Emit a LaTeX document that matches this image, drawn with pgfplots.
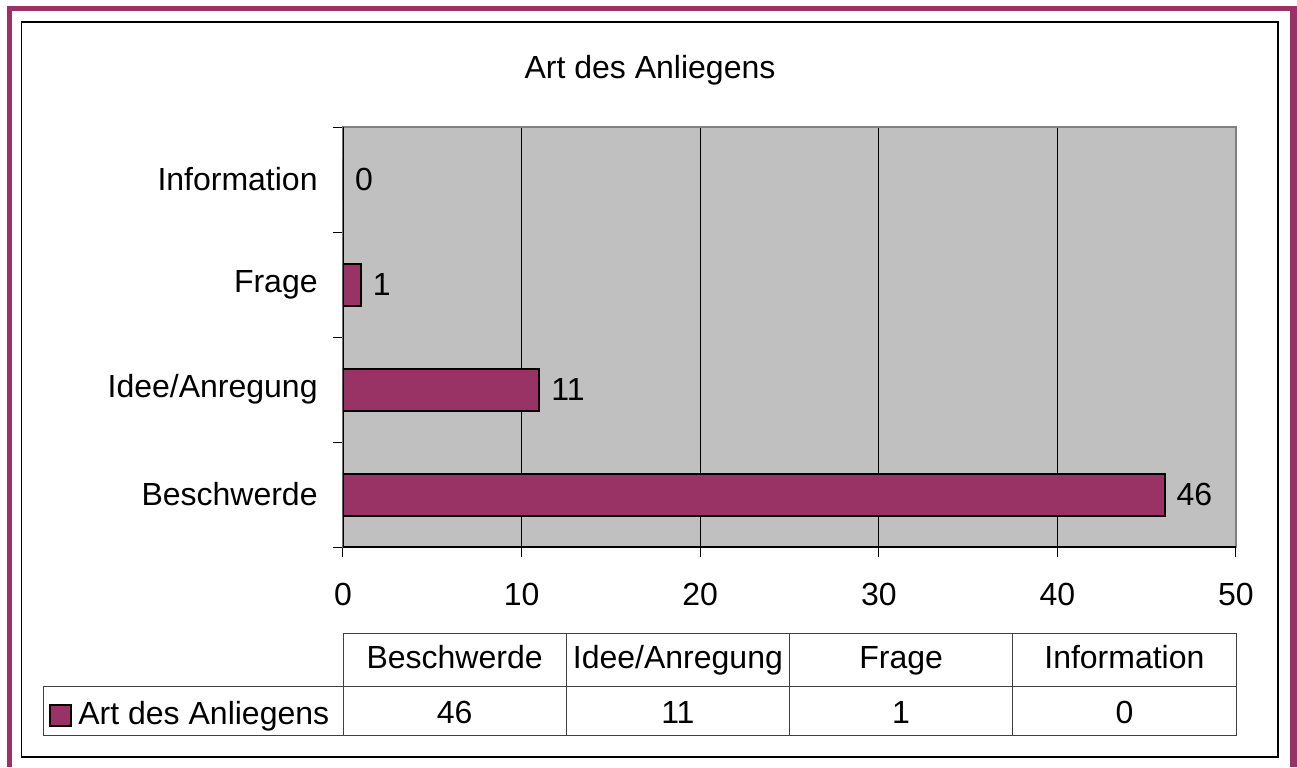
\documentclass[border=0pt]{standalone}
\usepackage{pgfplots}
\pgfplotsset{compat=1.18}
\usepackage{fontspec}
\setmainfont{Liberation Sans}
\definecolor{plum}{HTML}{993366}
\definecolor{plotgray}{HTML}{C0C0C0}
\definecolor{framegray}{HTML}{808080}
\definecolor{tablegray}{HTML}{404040}
\begin{document}
\fontsize{16}{19}\selectfont
\begin{tikzpicture}
\begin{scope}[x=0.5pt,y=0.5pt]
\path[use as bounding box] (0,0) rectangle (1297,767);
% outer magenta frame
\fill[plum] (7,0) rectangle (12,761);
\fill[plum] (7,756) rectangle (1297,761);
\fill[plum] (1290,0) rectangle (1297,761);
% inner frame
\draw[black, line width=0.6pt] (21.5,10) rectangle (1278,745);
% title
\node[anchor=base, inner sep=0pt] at (650,688) {Art des Anliegens};
\end{scope}
\begin{axis}[
  at={(171.5pt,110pt)}, anchor=south west,
  width=446.5pt, height=210pt, scale only axis,
  xbar, bar width=21pt,
  xmin=0, xmax=50, ymin=-0.5, ymax=3.5,
  xtick={0,10,...,50},
  ytick={0,1,2,3},
  yticklabels={Beschwerde,Idee/Anregung,Frage,Information},
  minor ytick={-0.5,0.5,1.5,2.5,3.5},
  tick align=outside,
  xtick pos=bottom, ytick pos=left,
  major tick length=5pt, minor tick length=5pt,
  major y tick style={draw=none},
  minor y tick style={draw=black, line width=0.5pt},
  major x tick style={draw=black, line width=0.5pt},
  xmajorgrids, grid style={black, line width=0.5pt},
  axis background/.style={fill=plotgray},
  axis line style={framegray, line width=0.8pt},
  xticklabel style={inner sep=0pt, anchor=north, yshift=-13pt},
  yticklabel style={inner sep=0pt, anchor=east, xshift=-7.5pt},
  /pgf/number format/assume math mode=true,
  point meta=x,
  nodes near coords,
  nodes near coords style={anchor=west, inner sep=0pt, xshift=5.5pt, black},
]
\addplot[fill=plum, draw=black, line width=1pt] coordinates {(46,0) (11,1) (1,2) (0,3)};
\draw[black, line width=0.6pt] (rel axis cs:0,0) -- (rel axis cs:0,1);
\draw[black, line width=0.6pt] (rel axis cs:0,0) -- (rel axis cs:1,0);
\end{axis}
\begin{scope}[x=0.5pt,y=0.5pt]
% data table
\begin{scope}[tablegray, line width=0.5pt]
\draw (343,81) rectangle (1236,134);
\draw (43,32) rectangle (1236,81);
\foreach \xx in {343,566.25,789.5,1012.75} \draw (\xx,32) -- (\xx,134);
\end{scope}
\node[anchor=base, inner sep=0pt] at (454.6,99) {Beschwerde};
\node[anchor=base, inner sep=0pt] at (677.9,99) {Idee/Anregung};
\node[anchor=base, inner sep=0pt] at (901.1,99) {Frage};
\node[anchor=base, inner sep=0pt] at (1124.4,99) {Information};
\node[anchor=base, inner sep=0pt] at (454.6,44) {46};
\node[anchor=base, inner sep=0pt] at (677.9,44) {11};
\node[anchor=base, inner sep=0pt] at (901.1,44) {1};
\node[anchor=base, inner sep=0pt] at (1124.4,44) {0};
\draw[fill=plum, draw=black, line width=1pt] (50,41) rectangle (71,62);
\node[anchor=base west, inner sep=0pt] at (78,43) {Art des Anliegens};
\end{scope}
\end{tikzpicture}
\end{document}
